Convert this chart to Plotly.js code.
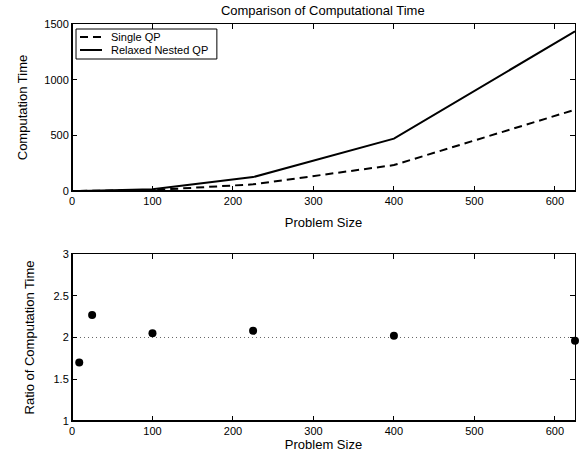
<!DOCTYPE html>
<html><head><meta charset="utf-8">
<script src="https://cdn.plot.ly/plotly-3.0.1.min.js"></script>
<style>html,body{margin:0;padding:0;background:#fff}#chart{width:580px;height:457px}</style>
</head><body><div id="chart"></div>
<script>
const problemSize = [9, 25, 100, 225, 400, 625];
const singleQP = [0.5, 0.8, 8, 60, 233, 730];
const relaxedQP = [0.9, 1.8, 17, 125, 470, 1435];
const ratio = [1.70, 2.27, 2.05, 2.08, 2.02, 1.96];
const seriesNames = ['Single QP', 'Relaxed Nested QP'];
const ratioRef = 2;
const xRange = [0, 625];
const xTicks = [0, 100, 200, 300, 400, 500, 600];
const yTopTicks = [0, 500, 1000, 1500];
const yBotTicks = [1, 1.5, 2, 2.5, 3];

const FONT = 'Liberation Sans, Arial, Helvetica, sans-serif';
const axBase = {
  showgrid: false, zeroline: false, showline: true, linecolor: '#000', linewidth: 1,
  mirror: 'allticks', ticks: 'inside', ticklen: 5, tickcolor: '#000', tickwidth: 1,
  tickfont: {family: FONT, size: 11, color: '#000'}
};
const DASH = '8px,5px';

const traces = [
  {x: problemSize, y: singleQP, type: 'scatter', mode: 'lines', name: seriesNames[0],
   line: {color: '#000', width: 2, dash: DASH}, xaxis: 'x', yaxis: 'y'},
  {x: problemSize, y: relaxedQP, type: 'scatter', mode: 'lines', name: seriesNames[1],
   line: {color: '#000', width: 2}, xaxis: 'x', yaxis: 'y'},
  {x: xRange, y: xRange.map(() => ratioRef), type: 'scatter', mode: 'lines', showlegend: false,
   line: {color: '#666', width: 1, dash: '1px,3px'}, xaxis: 'x2', yaxis: 'y2', hoverinfo: 'skip'},
  {x: problemSize, y: ratio, type: 'scatter', mode: 'markers', showlegend: false,
   marker: {color: '#000', size: 8}, cliponaxis: false, xaxis: 'x2', yaxis: 'y2'}
];

// legend drawn by hand (box, line samples, labels)
const leg = {x0: 0.008, x1: 0.288, y0: 0.9118, y1: 0.9874, lx0: 0.0159, lx1: 0.0596, tx: 0.0736, rows: [0.9673, 0.9345]};
const shapes = [
  {type: 'rect', xref: 'paper', yref: 'paper', x0: leg.x0, x1: leg.x1, y0: leg.y0, y1: leg.y1,
   line: {color: '#000', width: 1}, fillcolor: '#fff', layer: 'above'},
  {type: 'line', xref: 'paper', yref: 'paper', x0: leg.lx0, x1: leg.lx1, y0: leg.rows[0], y1: leg.rows[0],
   line: {color: '#000', width: 2, dash: DASH}, layer: 'above'},
  {type: 'line', xref: 'paper', yref: 'paper', x0: leg.lx0, x1: leg.lx1, y0: leg.rows[1], y1: leg.rows[1],
   line: {color: '#000', width: 2}, layer: 'above'},
  // heavier left/bottom axis edges
  {type: 'line', xref: 'x domain', yref: 'y domain', x0: 0, x1: 1, y0: 0, y1: 0, line: {color: '#000', width: 2}, layer: 'above'},
  {type: 'line', xref: 'x domain', yref: 'y domain', x0: 0, x1: 0, y0: 0, y1: 1, line: {color: '#000', width: 2}, layer: 'above'},
  {type: 'line', xref: 'x2 domain', yref: 'y2 domain', x0: 0, x1: 1, y0: 0, y1: 0, line: {color: '#000', width: 2}, layer: 'above'},
  {type: 'line', xref: 'x2 domain', yref: 'y2 domain', x0: 0, x1: 0, y0: 0, y1: 1, line: {color: '#000', width: 2}, layer: 'above'}
];
const annotations = seriesNames.map((n, i) => ({
  text: n, xref: 'paper', yref: 'paper', x: leg.tx, y: leg.rows[i], xanchor: 'left', yanchor: 'middle',
  showarrow: false, font: {family: FONT, size: 11, color: '#000'}
}));

const layout = {
  width: 580, height: 457,
  margin: {l: 72, r: 5, t: 24, b: 36},
  paper_bgcolor: '#fff', plot_bgcolor: '#fff',
  font: {family: FONT, size: 11, color: '#000'},
  title: {text: 'Comparison of Computational Time', font: {family: FONT, size: 13, color: '#000'},
          x: 0.5565, xanchor: 'center', y: 0.978, yanchor: 'middle'},
  showlegend: false,
  shapes: shapes,
  annotations: annotations,
  xaxis: Object.assign({}, axBase, {domain: [0, 1], range: xRange, tickvals: xTicks, anchor: 'y',
          title: {text: 'Problem Size', font: {family: FONT, size: 13}, standoff: 11}}),
  yaxis: Object.assign({}, axBase, {domain: [0.5793, 1], range: [0, 1500], tickvals: yTopTicks, anchor: 'x',
          title: {text: 'Computation Time', font: {family: FONT, size: 13}, standoff: 13}}),
  xaxis2: Object.assign({}, axBase, {domain: [0, 1], range: xRange, tickvals: xTicks, anchor: 'y2',
          title: {text: 'Problem Size', font: {family: FONT, size: 13}, standoff: 0}}),
  yaxis2: Object.assign({}, axBase, {domain: [0, 0.4207], range: [1, 3], tickvals: yBotTicks,
          ticktext: ['1', '1.5', '2', '2.5', '3'], anchor: 'x2',
          title: {text: 'Ratio of Computation Time', font: {family: FONT, size: 13}, standoff: 15}})
};

Plotly.newPlot('chart', traces, layout, {displayModeBar: false, staticPlot: true});
</script></body></html>
